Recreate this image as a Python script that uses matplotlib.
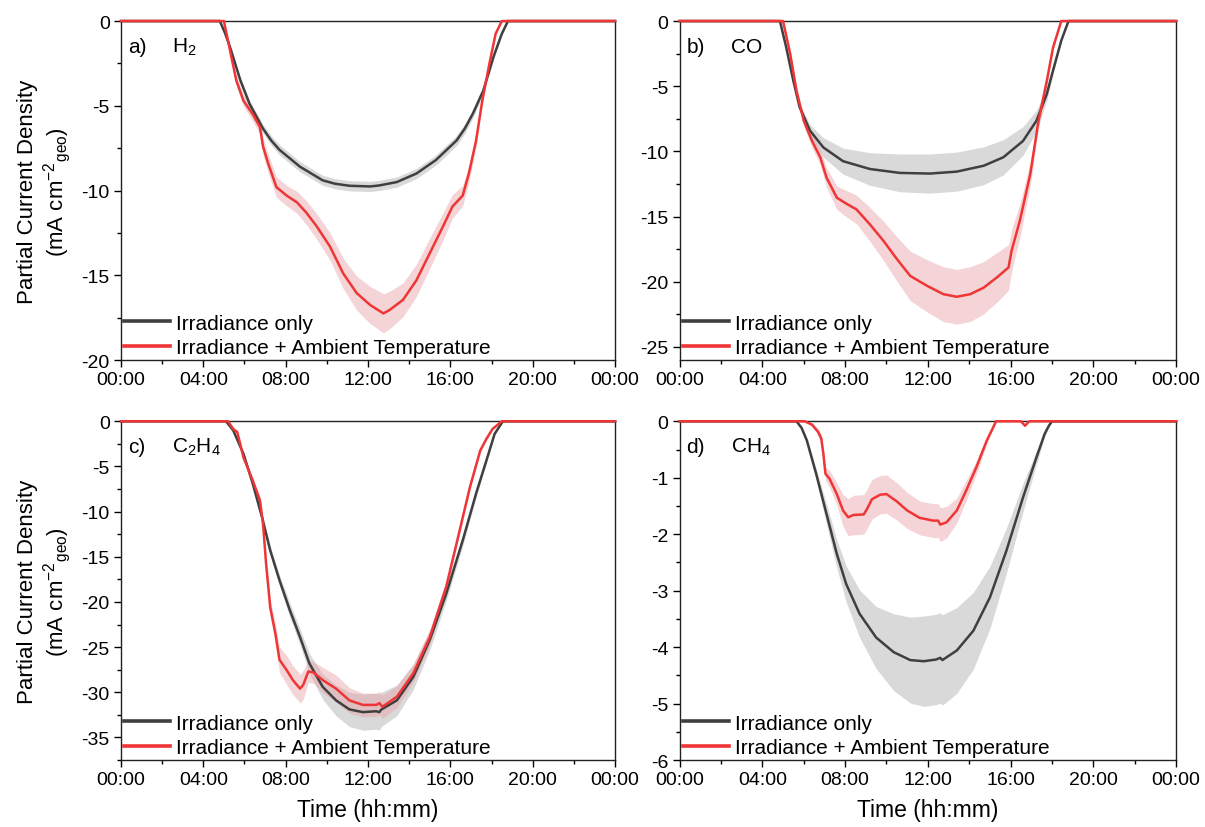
import matplotlib
matplotlib.use("Agg")
import matplotlib.pyplot as plt
from matplotlib.ticker import MultipleLocator

plt.rcParams['font.family'] = ['Liberation Sans', 'DejaVu Sans']
plt.rcParams['mathtext.default'] = 'regular'
plt.rcParams['axes.unicode_minus'] = False

tick_labels = ["00:00", "04:00", "08:00", "12:00", "16:00", "20:00", "00:00"]
legend_labels = ["Irradiance only", "Irradiance + Ambient Temperature"]

# a) H2
ha_ir = [0, 4.8, 5.05, 5.3, 5.8, 6.25, 6.9, 7.3, 7.7, 8.7, 9.8, 10.4, 11.1, 12.1, 12.55, 13.4, 14.35, 15.3, 16.3, 16.7, 17.1, 17.6, 17.85, 18.1, 18.5, 18.8, 24]
a_ir = [0, 0, -0.7, -1.55, -3.5, -4.9, -6.35, -7.05, -7.6, -8.6, -9.4, -9.6, -9.72, -9.76, -9.7, -9.5, -9.0, -8.2, -7.05, -6.35, -5.45, -4.1, -3.1, -2.1, -0.75, 0, 0]
a_ir_err = [0, 0, 0.05, 0.1, 0.15, 0.2, 0.25, 0.28, 0.3, 0.3, 0.3, 0.3, 0.3, 0.3, 0.3, 0.3, 0.3, 0.3, 0.3, 0.28, 0.25, 0.2, 0.18, 0.15, 0.1, 0, 0]
ha_t = [0, 5.0, 5.3, 5.6, 5.95, 6.4, 6.75, 6.9, 7.15, 7.55, 8.05, 8.55, 9.0, 9.5, 10.15, 10.8, 11.45, 12.1, 12.75, 13.05, 13.7, 14.35, 15.0, 15.65, 16.1, 16.6, 16.9, 17.25, 17.55, 17.9, 18.2, 18.5, 24]
a_t = [0, 0, -1.75, -3.5, -4.7, -5.5, -6.25, -7.4, -8.4, -9.8, -10.3, -10.7, -11.3, -12.1, -13.3, -14.9, -16.05, -16.75, -17.25, -17.05, -16.45, -15.3, -13.7, -12.1, -10.95, -10.3, -9.0, -7.05, -4.7, -2.5, -0.75, 0, 0]
a_t_err = [0, 0, 0.2, 0.3, 0.35, 0.4, 0.45, 0.5, 0.55, 0.6, 0.6, 0.65, 0.7, 0.75, 0.8, 0.9, 1.0, 1.1, 1.15, 1.1, 1.0, 0.95, 0.9, 0.8, 0.7, 0.6, 0.5, 0.4, 0.3, 0.2, 0.1, 0, 0]

# b) CO
hb_ir = [0, 4.85, 5.15, 5.5, 5.8, 6.3, 6.95, 7.9, 9.2, 10.65, 12.1, 13.4, 14.7, 15.65, 16.6, 17.25, 17.75, 18.05, 18.45, 18.8, 24]
b_ir = [0, 0, -2.0, -4.6, -6.6, -8.4, -9.7, -10.75, -11.35, -11.65, -11.7, -11.55, -11.1, -10.45, -9.2, -7.65, -5.6, -3.8, -1.5, 0, 0]
b_ir_err = [0, 0, 0.1, 0.2, 0.3, 0.45, 0.75, 1.0, 1.25, 1.45, 1.5, 1.5, 1.45, 1.35, 1.1, 0.8, 0.5, 0.3, 0.1, 0, 0]
hb_t = [0, 5.0, 5.35, 5.65, 6.0, 6.4, 6.8, 7.1, 7.6, 8.05, 8.55, 9.2, 9.85, 10.5, 11.15, 11.95, 12.75, 13.4, 14.05, 14.7, 15.35, 15.9, 16.05, 16.45, 16.95, 17.35, 17.75, 18.05, 18.45, 24]
b_t = [0, 0, -2.55, -5.35, -7.65, -9.2, -10.45, -12.0, -13.55, -14.0, -14.45, -15.6, -16.85, -18.25, -19.55, -20.3, -20.95, -21.15, -20.95, -20.45, -19.65, -18.9, -17.6, -15.3, -11.75, -7.65, -4.6, -2.05, 0, 0]
b_t_err = [0, 0, 0.15, 0.3, 0.4, 0.5, 0.6, 0.75, 0.9, 1.0, 1.1, 1.3, 1.5, 1.7, 1.9, 2.0, 2.1, 2.1, 2.1, 2.0, 1.9, 1.75, 1.6, 1.3, 0.9, 0.6, 0.4, 0.2, 0, 0]

# c) C2H4
hc_ir = [0, 5.1, 5.45, 5.95, 6.4, 6.85, 7.25, 7.7, 8.2, 8.7, 9.15, 9.8, 10.45, 11.1, 11.75, 12.4, 12.55, 12.65, 13.4, 14.2, 15.0, 15.8, 16.6, 17.25, 17.75, 18.15, 18.55, 24]
c_ir = [0, 0, -1.0, -3.6, -6.9, -10.6, -14.3, -17.6, -20.9, -23.9, -26.8, -29.4, -30.9, -31.9, -32.2, -32.1, -32.2, -31.9, -30.9, -28.3, -24.2, -19.1, -13.2, -8.0, -4.35, -1.4, 0, 0]
c_ir_err = [0, 0, 0.1, 0.2, 0.3, 0.4, 0.5, 0.6, 0.8, 0.9, 1.1, 1.4, 1.7, 1.9, 2.0, 2.0, 2.0, 1.9, 1.7, 1.4, 1.1, 0.8, 0.6, 0.4, 0.3, 0.1, 0, 0]
hc_t = [0, 5.2, 5.45, 5.65, 5.95, 6.4, 6.75, 6.9, 7.05, 7.25, 7.5, 7.7, 8.05, 8.35, 8.7, 8.85, 9.1, 9.35, 9.8, 10.45, 11.1, 11.75, 12.4, 12.55, 12.7, 13.4, 14.2, 15.0, 15.8, 16.45, 16.95, 17.45, 17.75, 18.05, 18.5, 24]
c_t = [0, 0, -0.85, -1.2, -4.0, -6.55, -8.75, -11.35, -15.8, -20.6, -23.5, -26.4, -27.55, -28.65, -29.6, -29.2, -27.7, -27.8, -28.65, -29.6, -30.9, -31.4, -31.4, -31.2, -31.6, -30.5, -27.9, -23.9, -18.3, -12.1, -7.3, -3.25, -1.95, -0.85, 0, 0]
c_t_err = [0, 0, 0.2, 0.2, 0.3, 0.3, 0.4, 0.5, 0.7, 0.9, 1.1, 1.4, 1.6, 1.6, 1.6, 1.6, 1.2, 1.2, 1.4, 1.5, 1.4, 1.3, 1.3, 1.3, 1.3, 1.2, 1.0, 0.8, 0.6, 0.4, 0.3, 0.2, 0.15, 0.1, 0, 0]

# d) CH4
hd_ir = [0, 5.65, 5.9, 6.15, 6.6, 7.1, 7.6, 8.05, 8.7, 9.5, 10.35, 11.15, 11.8, 12.4, 12.6, 12.7, 13.4, 14.2, 15.0, 15.8, 16.6, 17.25, 17.65, 17.85, 18.0, 24]
d_ir = [0, 0, -0.12, -0.34, -0.93, -1.64, -2.35, -2.88, -3.41, -3.83, -4.09, -4.23, -4.25, -4.22, -4.19, -4.23, -4.06, -3.71, -3.12, -2.29, -1.35, -0.64, -0.22, -0.08, 0, 0]
d_ir_err = [0, 0, 0.02, 0.05, 0.1, 0.18, 0.25, 0.32, 0.42, 0.55, 0.68, 0.76, 0.8, 0.8, 0.8, 0.8, 0.76, 0.68, 0.55, 0.4, 0.25, 0.12, 0.05, 0.02, 0, 0]
hd_t = [0, 6.05, 6.4, 6.7, 6.85, 6.95, 7.05, 7.25, 7.6, 7.9, 8.15, 8.4, 8.9, 9.05, 9.3, 9.7, 10.0, 10.5, 11.0, 11.6, 12.25, 12.5, 12.6, 12.9, 13.4, 13.85, 14.35, 14.85, 15.3, 16.5, 16.7, 16.9, 24]
d_t = [0, 0, -0.06, -0.19, -0.31, -0.58, -0.93, -1.02, -1.29, -1.58, -1.7, -1.66, -1.65, -1.56, -1.38, -1.3, -1.29, -1.42, -1.58, -1.71, -1.76, -1.76, -1.83, -1.79, -1.58, -1.23, -0.81, -0.34, 0, 0, -0.08, 0, 0]
d_t_err = [0, 0, 0.03, 0.06, 0.08, 0.1, 0.12, 0.15, 0.2, 0.28, 0.33, 0.35, 0.35, 0.35, 0.35, 0.34, 0.34, 0.33, 0.32, 0.3, 0.3, 0.3, 0.3, 0.28, 0.22, 0.18, 0.12, 0.06, 0, 0, 0, 0, 0]

DARK = "#3f3f3f"
RED = "#ef3535"


def draw_panel(ax, h_ir, y_ir, e_ir, h_t, y_t, e_t, ylim, ymajor, tag, name):
    ax.fill_between(h_ir, [y - e for y, e in zip(y_ir, e_ir)], [y + e for y, e in zip(y_ir, e_ir)],
                    color="#d9d9d9", lw=0, zorder=1)
    ax.fill_between(h_t, [y - e for y, e in zip(y_t, e_t)], [y + e for y, e in zip(y_t, e_t)],
                    color="#e8a0a5", alpha=0.45, lw=0, zorder=2)
    ax.plot(h_ir, y_ir, color=DARK, lw=1.8, label=legend_labels[0], zorder=3, clip_on=False)
    ax.plot(h_t, y_t, color=RED, lw=1.8, label=legend_labels[1], zorder=4, clip_on=False)

    ax.set_xlim(0, 24)
    ax.set_ylim(ylim, 0)
    ax.set_xticks(range(0, 25, 4))
    ax.set_xticklabels(tick_labels)
    ax.xaxis.set_minor_locator(MultipleLocator(2))
    ax.yaxis.set_major_locator(MultipleLocator(ymajor))
    ax.yaxis.set_minor_locator(MultipleLocator(ymajor / 2))
    ax.tick_params(which="major", direction="out", length=5, width=1, labelsize=14, pad=3)
    ax.tick_params(which="minor", direction="out", length=3, width=1)
    for sp in ax.spines.values():
        sp.set_linewidth(1.0)
        sp.set_color("#222222")

    ax.text(0.014, 0.926, tag, transform=ax.transAxes, fontsize=15, va="center")
    ax.text(0.103, 0.926, name, transform=ax.transAxes, fontsize=15, va="center")
    leg = ax.legend(loc="lower left", frameon=False, fontsize=15, handlelength=2.2,
                    handletextpad=0.3, labelspacing=0.25, borderaxespad=0.05, borderpad=0.1)
    for ln in leg.get_lines():
        ln.set_linewidth(2.6)


fig = plt.figure(figsize=(12.05, 8.28), dpi=100)
ax_a = fig.add_axes([0.1004, 0.564, 0.410, 0.4094])
ax_b = fig.add_axes([0.564, 0.564, 0.412, 0.4094])
ax_c = fig.add_axes([0.1004, 0.0809, 0.410, 0.4091])
ax_d = fig.add_axes([0.564, 0.0809, 0.412, 0.4091])

draw_panel(ax_a, ha_ir, a_ir, a_ir_err, ha_t, a_t, a_t_err, -20, 5, "a)", "H$_2$")
draw_panel(ax_b, hb_ir, b_ir, b_ir_err, hb_t, b_t, b_t_err, -26, 5, "b)", "CO")
draw_panel(ax_c, hc_ir, c_ir, c_ir_err, hc_t, c_t, c_t_err, -37.5, 5, "c)", "C$_2$H$_4$")
draw_panel(ax_d, hd_ir, d_ir, d_ir_err, hd_t, d_t, d_t_err, -6, 1, "d)", "CH$_4$")

ylab = "Partial Current Density\n(mA cm$^{-2}$$_{geo}$)"
ax_a.set_ylabel(ylab, fontsize=16, linespacing=1.15, labelpad=6)
ax_c.set_ylabel(ylab, fontsize=16, linespacing=1.15, labelpad=6)
ax_c.set_xlabel("Time (hh:mm)", fontsize=16.5, labelpad=7)
ax_d.set_xlabel("Time (hh:mm)", fontsize=16.5, labelpad=7)

fig.savefig("out.png", dpi=100)
